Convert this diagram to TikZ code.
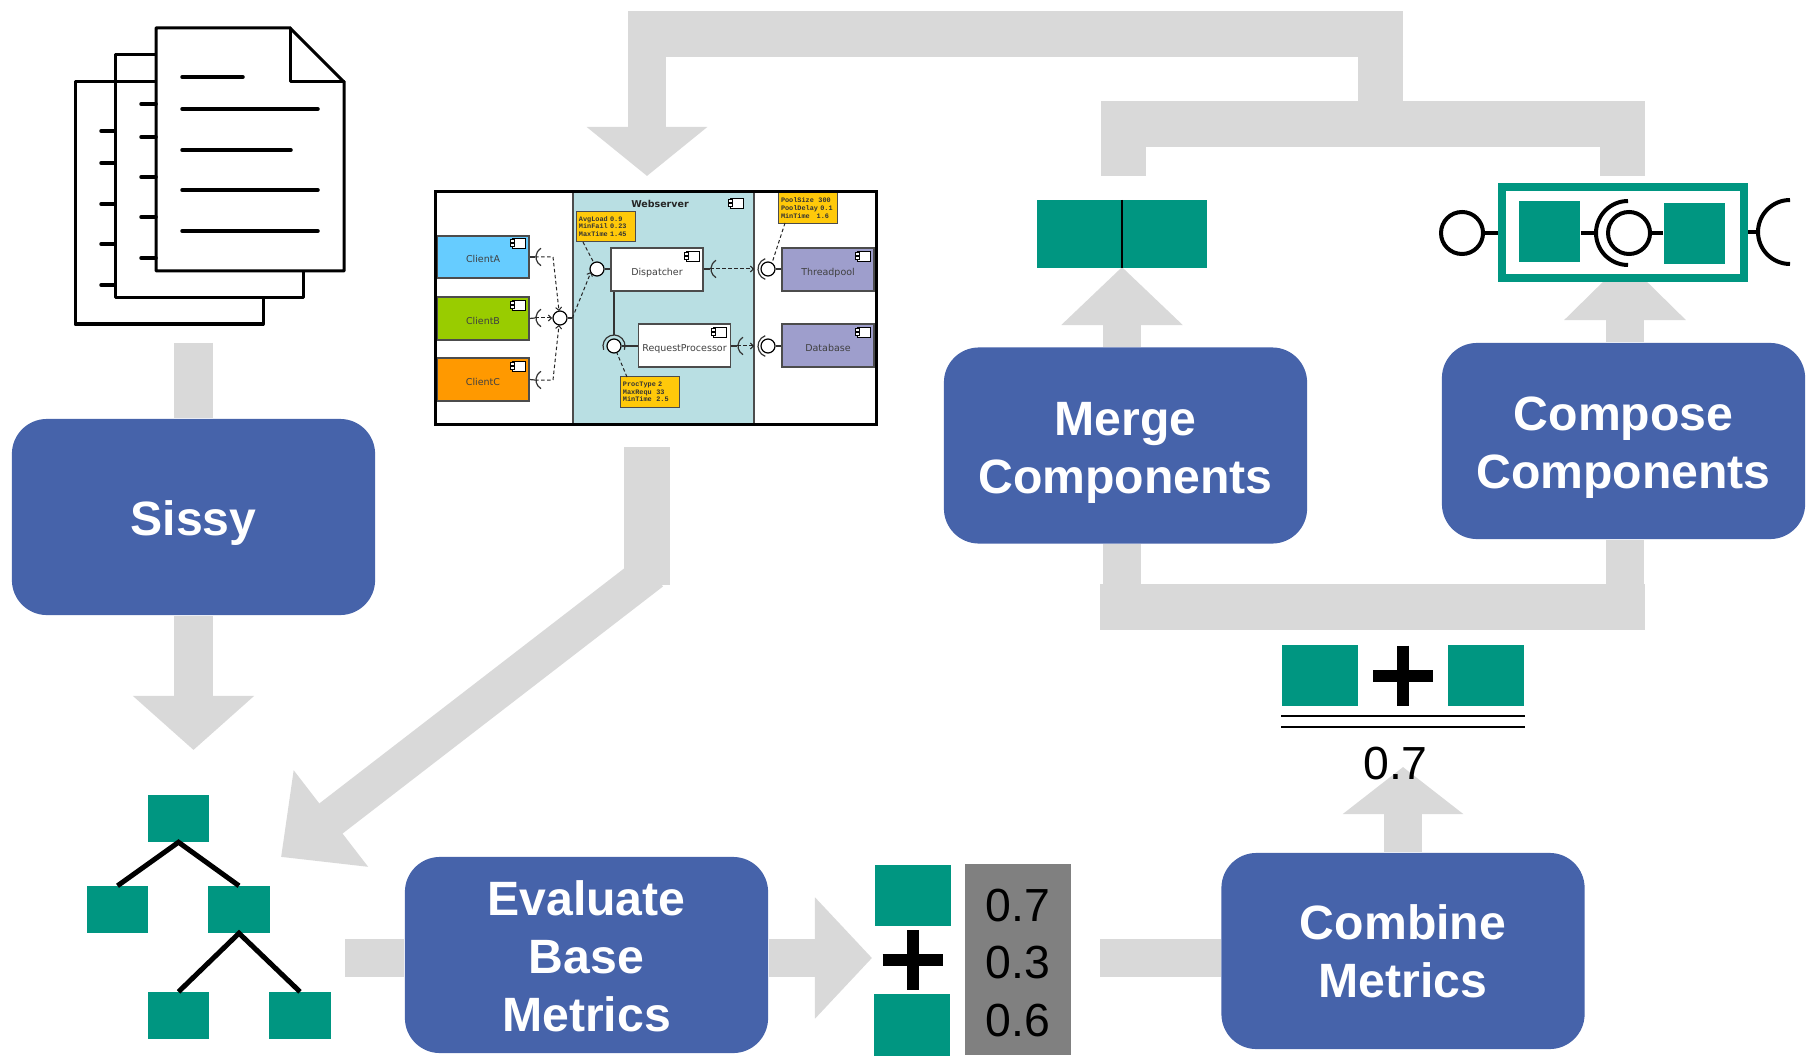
\documentclass[tikz,border=0pt]{standalone}
\usepackage{fontspec}
\setmainfont{Liberation Sans}
\newfontfamily\compfont{DejaVu Sans}
\newfontfamily\notefont{Liberation Mono}
\usetikzlibrary{arrows.meta,calc,positioning}
\definecolor{tealbox}{RGB}{0,150,129}
\definecolor{stepblue}{RGB}{70,99,170}
\definecolor{bargray}{RGB}{217,217,217}
\definecolor{valgray}{RGB}{128,128,128}
\definecolor{serverblue}{RGB}{185,223,227}
\definecolor{notegold}{RGB}{255,201,10}
\tikzset{
	stepbox/.style={draw=none,fill=stepblue,rounded corners=0.35cm,minimum width=3.63cm,minimum height=1.96cm,inner sep=0},
	steptext/.style={align=center,inner sep=0,text=white,font=\fontsize{13.7}{16.5}\selectfont\bfseries},
	barlink/.style={draw=bargray,line width=0.38cm,line join=miter},
	forklink/.style={draw=bargray,line width=0.45cm,line join=miter},
	bighead/.style={-{Triangle[width=1.18cm,length=#1]}},
	unit/.style={fill=tealbox,draw=none,inner sep=0,minimum width=0.61cm,minimum height=0.46cm},
	wideunit/.style={fill=tealbox,draw=none,inner sep=0,minimum width=0.76cm,minimum height=0.61cm},
	value/.style={inner sep=0,font=\fontsize{13.2}{15}\selectfont},
	thick line/.style={line width=0.05cm,black},
	page/.style={line width=0.03cm,black,line join=round,line cap=round},
	pageline/.style={line width=0.035cm,black,line cap=round},
	wire/.style={line width=0.04cm,black},
	comp/.style={draw=black!70,line width=0.012cm,inner sep=0,minimum width=0.92cm,minimum height=0.43cm,text=black!75,text height=0.11cm,text depth=0cm,font=\compfont\fontsize{2.7}{3}\selectfont},
	ball/.style={circle,draw=black,fill=white,line width=0.012cm,inner sep=0,minimum size=0.14cm},
	bigball/.style={circle,draw=black,line width=0.04cm,inner sep=0,minimum size=0.42cm},
	note/.style={draw=black!70,fill=notegold,line width=0.01cm,inner sep=0,minimum width=0.58cm,minimum height=0.30cm,text width=0.54cm,align=left,text=black!80,font=\notefont\bfseries\fontsize{1.95}{2.15}\selectfont},
	link/.style={line width=0.012cm,black!80},
	dashlink/.style={line width=0.01cm,black!85,dash pattern=on 0.035cm off 0.025cm},
	barb/.style={-{Straight Barb[length=0.03cm,width=0.06cm]}}
}
% small component symbol
\newcommand{\compicon}[1]{
	\draw[line width=0.008cm,fill=white] ($(#1)+(-5.5,-5)$) rectangle ($(#1)+(7.5,5)$);
	\draw[line width=0.008cm,fill=white] ($(#1)+(-7.5,-3.2)$) rectangle ($(#1)+(-3.5,-0.6)$);
	\draw[line width=0.008cm,fill=white] ($(#1)+(-7.5,0.6)$) rectangle ($(#1)+(-3.5,3.2)$);
}
% half circle of a required interface
\newcommand{\socket}[5][link]{
	\draw[#1] (#2) ++(#4:#3) arc[start angle=#4,end angle=#5,radius=#3];
}
\newcommand{\plussign}[1]{
	\draw[line width=0.12cm,black] ($(#1)+(-30,0)$) -- ($(#1)+(30,0)$);
	\draw[line width=0.12cm,black] ($(#1)+(0,-30)$) -- ($(#1)+(0,30)$);
}
\begin{document}
\begin{tikzpicture}[x=0.01cm,y=-0.01cm]
	\useasboundingbox (0,0) rectangle (1807,1055);

	% process steps
	\node[stepbox,label={[steptext,yshift=-0.06cm]center:Sissy}] (sissy) at (193.5,517) {};
	\node[stepbox,label={[steptext,yshift=-0.07cm]center:Merge\\Components}] (merge) at (1125.5,445.5) {};
	\node[stepbox,label={[steptext,yshift=-0.07cm]center:Compose\\Components}] (compose) at (1623.5,441) {};
	\node[stepbox,label={[steptext,yshift=-0.01cm]center:Evaluate\\Base\\Metrics}] (evaluate) at (586.5,955) {};
	\node[stepbox,label={[steptext]center:Combine\\Metrics}] (combine) at (1403,951) {};

	% free ends of the connectors
	\coordinate (docsout) at (193.5,343);
	\coordinate (treein) at (193.5,750);
	\coordinate (modelout) at (647,447);
	\coordinate (modelbend) at (647,585);
	\coordinate (modelslant) at (651.4,571.4);
	\coordinate (treeside) at (281,857);
	\coordinate (treeout) at (345,958);
	\coordinate (valout) at (1100,958);
	\coordinate (unitsin) at (872,958);
	\coordinate (mergein) at (1122,267);
	\coordinate (composein) at (1625,260);
	\coordinate (sumin) at (1403,767);

	\draw[barlink] (docsout) -- (sissy.north);
	\draw[barlink,bighead=0.54cm] (sissy.south) -- (treein);
	\draw[forklink,line width=0.46cm] (modelout) -- (modelbend);
	\draw[barlink,bighead=0.63cm] (modelslant) -- (treeside);
	\draw[barlink] (treeout) -- (treeout -| evaluate.west);
	\draw[barlink,bighead=0.57cm] (treeout -| evaluate.east) -- (unitsin);
	\draw[barlink] (valout) -- (valout -| combine.west);
	\draw[barlink,bighead=0.47cm] (combine.north) -- (sumin);
	\draw[barlink,bighead=0.58cm] (mergein |- merge.north) -- (mergein);
	\draw[barlink,bighead=0.60cm] (composein |- compose.north) -- (composein);

	% loop back to the model
	\draw[barlink] (mergein |- merge.south) -- (1122,607);
	\draw[barlink] (composein |- compose.south) -- (1625,607);
	\draw[forklink] (1100,607) -- (1645,607);
	\draw[forklink] (1123,176) -- (1123,124) -- (1622,124) -- (1622,176);
	\draw[forklink] (1380,124) -- (1380,34);
	\draw[forklink] (1403,34) -- (628,34);
	\draw[barlink,bighead=0.49cm] (647,34) -- (647,176);

	% pile of documents
	\begin{scope}[yshift=-0.01cm]
	\draw[page] (156,81) -- (75,81) -- (75,323) -- (263,323) -- (263,297);
	\draw[page] (156,54) -- (115,54) -- (115,297) -- (303,297) -- (303,270);
	\draw[page,fill=white] (156,27) -- (290,27) -- (344,81) -- (344,270) -- (156,270) -- cycle;
	\draw[page] (290,27) -- (290,81) -- (344,81);
	\foreach \yy/\xe in {76/243,108/318,149/291,189/318,230/318}
		\draw[pageline] (182,\yy) -- (\xe,\yy);
	\foreach \yy in {103,136,176,216,257}
		\draw[pageline] (141,\yy) -- (156,\yy);
	\foreach \yy in {130,162,203,243,284}
		\draw[pageline] (101,\yy) -- (115,\yy);
	\end{scope}

	% component model
	\node[draw=none,fill=white,minimum width=4.41cm,minimum height=2.33cm,inner sep=0] (model) at (656,308.5) {};
	\node[draw=black!70,fill=serverblue,line width=0.012cm,minimum width=1.81cm,minimum height=2.32cm,inner sep=0] (server) at (663.5,308) {};
	\node[inner sep=0,text=black!85,font=\compfont\bfseries\fontsize{2.7}{3}\selectfont] (servername) at (660,204) {Webserver};
	\compicon{736,203}

	\node[comp,fill={rgb,255:red,102;green,204;blue,255},minimum height=0.42cm] (clienta) at (483,257) {ClientA};
	\node[comp,fill={rgb,255:red,153;green,204;blue,0}] (clientb) at (483,318.5) {ClientB};
	\node[comp,fill={rgb,255:red,255;green,153;blue,0}] (clientc) at (483,379.5) {ClientC};
	\node[comp,fill=white] (dispatcher) at (657,269.5) {Dispatcher};
	\node[comp,fill=white] (reqproc) at (684.5,345.5) {RequestProcessor};
	\node[comp,fill={rgb,255:red,158;green,158;blue,204}] (threadpool) at (828,269.5) {Threadpool};
	\node[comp,fill={rgb,255:red,158;green,158;blue,204}] (database) at (828,345.5) {Database};
	\compicon{518,243}
	\compicon{518,305}
	\compicon{518,366}
	\compicon{692,256}
	\compicon{719,332}
	\compicon{863,256}
	\compicon{863,332}

	\node[ball] (clientball) at (560,318) {};
	\node[ball] (dispball) at (597,269) {};
	\node[ball] (reqball) at (614,346) {};
	\node[ball] (poolball) at (768,269) {};
	\node[ball] (dbball) at (768,346) {};
	\coordinate (sockab) at (535,257);
	\coordinate (sockbb) at (535,318);
	\coordinate (sockcb) at (535,380);
	\coordinate (sockdb) at (710,269);
	\coordinate (sockrb) at (737,346);

	% ports and required interfaces
	\socket{546,257}{10}{120}{240}
	\socket{546,318}{10}{120}{240}
	\socket{546,380}{10}{120}{240}
	\socket{721,269}{10}{120}{240}
	\socket{748,346}{10}{120}{240}
	\socket{769,269}{11}{110}{250}
	\socket{769,346}{11}{110}{250}
	\socket{614,346}{11}{160}{380}
	\draw[link] (clienta.east) -- (sockab);
	\draw[link] (clientb.east) -- (sockbb);
	\draw[link] (clientc.east) -- (sockcb);
	\draw[link] (clientball.east) -- (clientball -| server.west);
	\draw[link] (dispball.east) -- (dispatcher.west |- dispball);
	\draw[link] (dispatcher.east |- dispball) -- (sockdb);
	\draw[link] (reqball.east) -- (reqproc.west |- reqball);
	\draw[link] (reqproc.east |- reqball) -- (sockrb);
	\draw[link] (reqball |- dispatcher.south) -- (614,335);
	\draw[link] (poolball.east) -- (threadpool.west |- poolball);
	\draw[link] (dbball.east) -- (database.west |- dbball);
	\draw[dashlink,barb] (sockab) -- (553,257) -- (559,311);
	\draw[dashlink,barb] (sockbb) -- (552,318);
	\draw[dashlink,barb] (sockcb) -- (553,380) -- (559,325);
	\draw[dashlink,barb] (clientball -| server.west) -- (591,272);
	\draw[dashlink,barb] (sockdb) -- (754,269);
	\draw[dashlink,barb] (sockrb) -- (754,346);

	% annotations
	\node[note] (dispnote) at (606,226.5) {AvgLoad 0.9\\MinFail 0.23\\MaxTime 1.45};
	\node[note] (reqnote) at (650,392) {ProcType 2\\MaxRequ~~33\\MinTime~~2.5};
	\node[note] (poolnote) at (808,208) {PoolSize~~300\\PoolDelay 0.1\\MinTime~~~1.6};
	\draw[dashlink] (583,242) -- (dispball);
	\draw[dashlink] (627,377) -- (reqball);
	\draw[dashlink] (785,223) -- (772,263);

	% frame of the model
	\draw[line width=0.035cm,black] (435.5,191.5) rectangle (876.5,424.5);

	% tree of units
	\node[unit] (root) at (178.5,818.5) {};
	\node[unit] (left) at (117.5,909.5) {};
	\node[unit] (right) at (239,909.5) {};
	\node[unit] (grandl) at (178.5,1015.5) {};
	\node[unit] (grandr) at (300,1015.5) {};
	\draw[thick line] (left.north) -- (root.south) -- (right.north);
	\draw[thick line] (grandl.north) -- (right.south) -- (grandr.north);

	% units and metric values
	\node[wideunit] (unita) at (913,895.5) {};
	\node[wideunit] (unitb) at (912,1025) {};
	\plussign{912.5,960}
	\node[fill=valgray,minimum width=1.06cm,minimum height=1.91cm,inner sep=0] (values) at (1018,959.5) {};
	\node[value] (vala) at (1018,906) {0.7};
	\node[value] (valb) at (1018,962.5) {0.3};
	\node[value] (valc) at (1018,1021) {0.6};

	% weighted pair
	\node[wideunit] (suma) at (1320,675.5) {};
	\node[wideunit] (sumb) at (1486,675.5) {};
	\plussign{1403,675.5}
	\draw[line width=0.02cm] (suma.west |- 0,716) -- (sumb.east |- 0,716);
	\draw[line width=0.02cm] (suma.west |- 0,727) -- (sumb.east |- 0,727);
	\node[value] (sumval) at (1395.5,764) {0.7};

	% merged unit
	\node[fill=tealbox,minimum width=1.70cm,minimum height=0.67cm,inner sep=0] (merged) at (1122,234) {};
	\draw[line width=0.02cm] (merged.north) -- (merged.south);

	% composed units
	\node[draw=tealbox,fill=white,line width=0.08cm,minimum width=2.42cm,minimum height=0.91cm,inner sep=0] (composed) at (1623,232.5) {};
	\node[fill=tealbox,minimum size=0.61cm,inner sep=0] (compa) at (1549.5,231.5) {};
	\node[fill=tealbox,minimum size=0.61cm,inner sep=0] (compb) at (1694.5,233.5) {};
	\node[bigball] (outerball) at (1462,233) {};
	\node[bigball] (innerball) at (1629,233) {};
	\coordinate (innersock) at (1596,233);
	\coordinate (outersock) at (1758,232);
	\socket[wire]{1628,233}{32}{90}{270}
	\socket[wire]{1790,232}{32}{90}{270}
	\draw[wire] (outerball.east) -- (composed.west |- outerball);
	\draw[wire] (compa.east |- innersock) -- (innersock);
	\draw[wire] (innerball.east) -- (compb.west |- innerball);
	\draw[wire] (composed.east |- outersock) -- (outersock);
\end{tikzpicture}
\end{document}
